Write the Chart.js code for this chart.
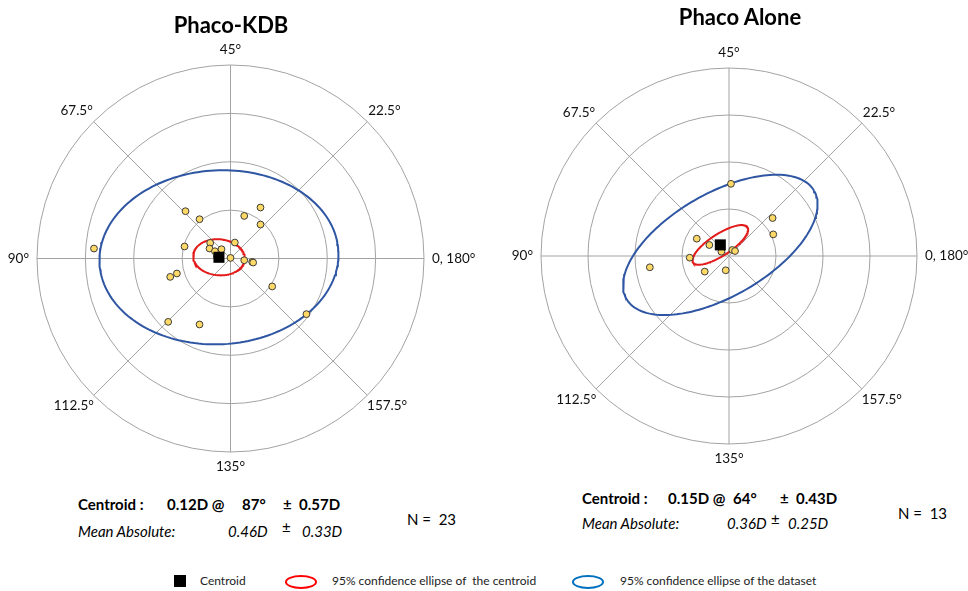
<!DOCTYPE html>
<html>
<head>
<meta charset="utf-8">
<script src="https://cdn.jsdelivr.net/npm/chart.js@4.4.1/dist/chart.umd.min.js"></script>
<style>
  body { margin: 0; background: #fff; font-family: Lato, "Open Sans", sans-serif; }
  #page { position: relative; width: 968px; height: 591px; overflow: hidden; }
  canvas { position: absolute; top: 0; }
  .t { position: absolute; white-space: pre; line-height: 20px; color: #000; font-size: 15px; }
  .b { font-weight: bold; }
  .i { font-style: italic; }
  .title { position: absolute; font-weight: bold; font-size: 22px; line-height: 26px; transform: translateX(-50%); }
  .leg { position: absolute; font-size: 12px; line-height: 14px; color: #222; white-space: pre; }
  .ell { position: absolute; width: 28px; height: 10px; border-radius: 50%; }
</style>
</head>
<body>
<div id="page">
  <canvas id="kdbChart" width="484" height="480" style="left:0;width:484px;height:480px"></canvas>
  <canvas id="aloneChart" width="484" height="480" style="left:484px;width:484px;height:480px"></canvas>

  <div class="title" style="left:231px;top:12px">Phaco-KDB</div>
  <div class="title" style="left:740px;top:4px">Phaco Alone</div>

  <!-- left summary -->
  <div class="t b" style="left:78px;top:494px">Centroid :</div>
  <div class="t b" style="left:167px;top:494px">0.12D @</div>
  <div class="t b" style="left:242px;top:494px">87°</div>
  <div class="t b" style="left:283px;top:494px">±  0.57D</div>
  <div class="t i" style="left:78px;top:521px">Mean Absolute:</div>
  <div class="t i" style="left:228px;top:521px">0.46D</div>
  <div class="t" style="left:282px;top:517px">±</div>
  <div class="t i" style="left:302px;top:521px">0.33D</div>
  <div class="t" style="left:407px;top:509px">N =  23</div>

  <!-- right summary -->
  <div class="t b" style="left:582px;top:488px">Centroid :</div>
  <div class="t b" style="left:668px;top:488px">0.15D @</div>
  <div class="t b" style="left:733px;top:488px">64°</div>
  <div class="t b" style="left:780px;top:488px">±  0.43D</div>
  <div class="t i" style="left:582px;top:513px">Mean Absolute:</div>
  <div class="t i" style="left:727px;top:513px">0.36D</div>
  <div class="t" style="left:771px;top:509px">±</div>
  <div class="t i" style="left:788px;top:513px">0.25D</div>
  <div class="t" style="left:898px;top:503px">N =  13</div>

  <!-- legend -->
  <div style="position:absolute;left:174px;top:575px;width:12px;height:12px;background:#000"></div>
  <div class="leg" style="left:200px;top:574px">Centroid</div>
  <div class="ell" style="left:285px;top:575px;border:2px solid #ff0000"></div>
  <div class="leg" style="left:332px;top:574px">95% confidence ellipse of  the centroid</div>
  <div class="ell" style="left:572px;top:575px;border:2px solid #0070c0"></div>
  <div class="leg" style="left:620px;top:574px">95% confidence ellipse of the dataset</div>
</div>

<script>
// Polar grid (double-angle plot, dioptres)
const ringValues = [0.5, 1, 1.5, 2];
const axisLabels = ['0, 180°', '22.5°', '45°', '67.5°', '90°', '112.5°', '135°', '157.5°'];

// Phaco-KDB: vector points (x, y in D, double-angle space)
const kdbX = [-0.465, -0.320, 0.142, 0.310, 0.310, -1.411, -0.475, -0.210, -0.217, -0.161, -0.093, 0.045,
              0.000, 0.142, 0.224, 0.234, -0.554, -0.623, 0.431, 0.785, -0.644, -0.320, -0.140];
const kdbY = [0.489, 0.406, 0.440, 0.527, 0.351, 0.103, 0.124, 0.161, 0.103, 0.075, 0.096, 0.165,
              0.006, -0.018, -0.035, -0.042, -0.155, -0.190, -0.289, -0.575, -0.655, -0.682, 0.020];
const kdbCentroid = [0.12, 87];              // magnitude D, axis deg
const kdbCentroidEllipse = [0.267, 0.186, -5]; // semi-axes D, tilt deg
const kdbDataEllipse = [1.236, 0.899, 3];

// Phaco alone
const aloneX = [0.021, 0.464, 0.471, -0.343, -0.209, -0.081, 0.035, 0.064, -0.418, -0.842, -0.258, -0.035, -0.096];
const aloneY = [0.768, 0.404, 0.230, 0.184, 0.117, 0.046, 0.064, 0.053, -0.018, -0.120, -0.166, -0.152, 0.117];
const aloneCentroid = [0.15, 64];
const aloneCentroidEllipse = [0.345, 0.115, 33];
const aloneDataEllipse = [1.152, 0.548, 30];

function centroidXY(c) {
    const a = 2 * c[1] * Math.PI / 180;
    return { x: c[0] * Math.cos(a), y: c[0] * Math.sin(a) };
}

function ellipsePoints(c, e) {
    const pts = [];
    const t = e[2] * Math.PI / 180;
    for (let i = 0; i <= 180; i++) {
        const u = i / 180 * 2 * Math.PI;
        const ex = e[0] * Math.cos(u), ey = e[1] * Math.sin(u);
        pts.push({ x: c.x + ex * Math.cos(t) - ey * Math.sin(t), y: c.y + ex * Math.sin(t) + ey * Math.cos(t) });
    }
    return pts;
}

// draws rings, spokes and angle labels using the chart's own scales
const polarGrid = {
    id: 'polarGrid',
    beforeDatasetsDraw(chart) {
        const { ctx, scales: { x, y } } = chart;
        const cx = x.getPixelForValue(0), cy = y.getPixelForValue(0);
        const R = x.getPixelForValue(ringValues[ringValues.length - 1]) - cx;
        ctx.save();
        ctx.strokeStyle = '#a3a3a3';
        ctx.lineWidth = 1;
        ringValues.forEach(r => {
            const rp = x.getPixelForValue(r) - cx;
            ctx.beginPath();
            ctx.arc(cx, cy, rp, 0, 2 * Math.PI);
            ctx.stroke();
        });
        ctx.font = '13.5px Lato, sans-serif';
        ctx.fillStyle = '#111';
        ctx.textAlign = 'center';
        ctx.textBaseline = 'middle';
        axisLabels.forEach((lab, i) => {
            const a = i * Math.PI / 4;
            const c = Math.cos(a), s = Math.sin(a);
            ctx.beginPath();
            ctx.moveTo(cx, cy);
            ctx.lineTo(cx + R * c, cy - R * s);
            ctx.stroke();
            const w = ctx.measureText(lab).width, h = 14;
            ctx.fillText(lab, cx + (R + 8) * c + c * w / 2, cy - (R + 8) * s - s * h / 2);
        });
        ctx.restore();
    }
};

function makeChart(id, xs, ys, centroid, cEll, dEll, padding) {
    const c = centroidXY(centroid);
    return new Chart(document.getElementById(id), {
        type: 'scatter',
        data: {
            datasets: [
                {
                    label: 'Centroid',
                    data: [c],
                    pointStyle: 'rect',
                    pointRadius: 7.8,
                    backgroundColor: '#000',
                    borderWidth: 0
                },
                {
                    label: 'Eyes',
                    data: xs.map((v, i) => ({ x: v, y: ys[i] })),
                    pointRadius: 3.4,
                    borderWidth: 1,
                    borderColor: '#3b3b3b',
                    backgroundColor: '#ffd966'
                },
                {
                    label: '95% confidence ellipse of the centroid',
                    data: ellipsePoints(c, cEll),
                    showLine: true,
                    pointRadius: 0,
                    borderColor: '#e31b1b',
                    borderWidth: 2,
                    fill: false
                },
                {
                    label: '95% confidence ellipse of the dataset',
                    data: ellipsePoints(c, dEll),
                    showLine: true,
                    pointRadius: 0,
                    borderColor: '#2f56a3',
                    borderWidth: 2,
                    fill: false
                }
            ]
        },
        options: {
            responsive: false,
            animation: false,
            layout: { padding: padding },
            plugins: { legend: { display: false }, tooltip: { enabled: false } },
            scales: {
                x: { type: 'linear', min: -2, max: 2, display: false },
                y: { type: 'linear', min: -2, max: 2, display: false }
            }
        },
        plugins: [polarGrid]
    });
}

makeChart('kdbChart', kdbX, kdbY, kdbCentroid, kdbCentroidEllipse, kdbDataEllipse,
    { left: 37, right: 60, top: 65, bottom: 28 });
makeChart('aloneChart', aloneX, aloneY, aloneCentroid, aloneCentroidEllipse, aloneDataEllipse,
    { left: 57, right: 51, top: 68, bottom: 36 });
</script>
</body>
</html>
